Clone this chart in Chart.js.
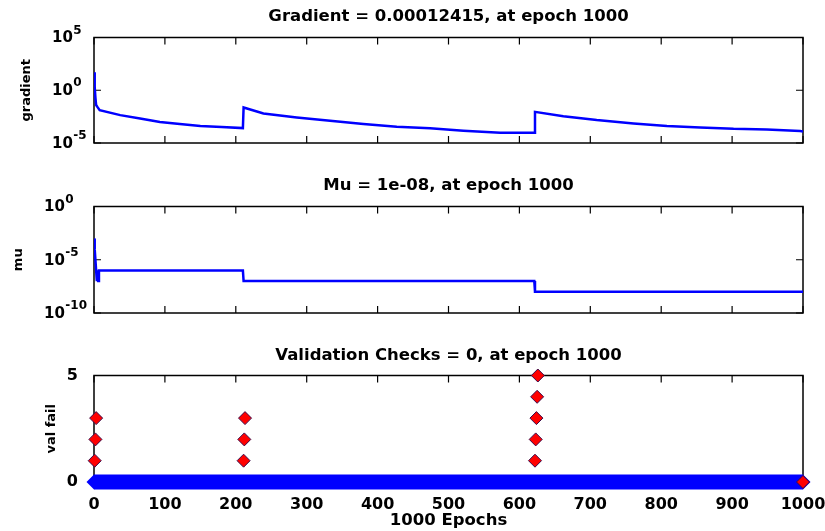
<!DOCTYPE html>
<html>
<head>
<meta charset="utf-8">
<script src="https://cdn.jsdelivr.net/npm/chart.js@4.4.0/dist/chart.umd.min.js"></script>
<style>
  html, body { margin: 0; padding: 0; background: #fff; }
  #wrap { position: relative; width: 825px; height: 531px; overflow: hidden; }
  canvas { position: absolute; left: 0; }
</style>
</head>
<body>
<div id="wrap">
  <canvas id="gradChart" width="825" height="160" style="top:0px"></canvas>
  <canvas id="muChart" width="825" height="165" style="top:165px"></canvas>
  <canvas id="valChart" width="825" height="201" style="top:330px"></canvas>
</div>
<script>
// x axis ticks (epochs)
const epochTicks = [0, 100, 200, 300, 400, 500, 600, 700, 800, 900, 1000];

// gradient per epoch
const gradEpochs = [0, 1, 2, 3, 5, 8, 37, 65, 93, 121, 150, 180, 210,
  211, 239, 286, 333, 380, 427, 474, 521, 573, 621,
  622, 662, 709, 761, 808, 855, 902, 949, 996, 1000];
const gradValues = [50, 2, 0.2, 0.04, 0.025, 0.013, 0.0044, 0.0021, 0.001, 6.3e-4, 4e-4, 3.2e-4, 2.6e-4,
  0.023, 0.0063, 0.0026, 0.00126, 6.3e-4, 3.5e-4, 2.45e-4, 1.45e-4, 9.3e-5, 9.3e-5,
  0.0089, 0.0035, 0.0015, 7.2e-4, 4e-4, 3e-4, 2.2e-4, 1.95e-4, 1.35e-4, 1.2415e-4];
const gradTicks = [1e-5, 1, 1e5];
const gradExps = ['-5', '0', '5'];

// mu per epoch
const muEpochs = [0, 1, 2, 3, 4, 5, 6, 7, 210, 211, 621, 622, 1000];
const muValues = [1e-3, 1e-4, 1e-5, 1e-6, 1e-7, 1e-6, 1e-7, 1e-6, 1e-6, 1e-7, 1e-7, 1e-8, 1e-8];
const muTicks = [1e-10, 1e-5, 1];
const muExps = ['-10', '-5', '0'];

// validation checks
const failEpochs = [1, 2, 3, 211, 212, 213, 622, 623, 624, 625, 626, 1000];
const failValues = [1, 2, 3, 1, 2, 3, 1, 2, 3, 4, 5, 0];
const zeroEpochs = [0, 1000];
const zeroValues = [0, 0];
const valTicks = [0, 5];

const TICK = 7;
const FONT = "'DejaVu Sans', 'Liberation Sans', sans-serif";

Chart.defaults.font.family = FONT;
Chart.defaults.font.weight = 'bold';
Chart.defaults.color = '#000';

const xy = (xs, ys) => xs.map((v, i) => ({ x: v, y: ys[i] }));

// axes box, inward tick marks and 10^n labels
const frame = {
  id: 'frame',
  beforeDatasetsDraw(chart, args, opts) {
    const { ctx, chartArea: a, scales } = chart;
    const xs = scales.x, ys = scales.y;
    ctx.save();
    ctx.strokeStyle = '#000';
    ctx.lineWidth = 1.5;
    ctx.strokeRect(a.left, a.top, a.right - a.left, a.bottom - a.top);
    ctx.lineWidth = 1.2;
    ctx.beginPath();
    epochTicks.forEach(v => {
      const px = xs.getPixelForValue(v);
      ctx.moveTo(px, a.top); ctx.lineTo(px, a.top + TICK);
      ctx.moveTo(px, a.bottom); ctx.lineTo(px, a.bottom - TICK);
    });
    opts.yTicks.forEach(v => {
      const py = ys.getPixelForValue(v);
      ctx.moveTo(a.left, py); ctx.lineTo(a.left + TICK, py);
      ctx.moveTo(a.right, py); ctx.lineTo(a.right - TICK, py);
    });
    ctx.stroke();
    if (opts.exps) {
      ctx.fillStyle = '#000';
      ctx.textAlign = 'left';
      ctx.textBaseline = 'middle';
      opts.yTicks.forEach((v, i) => {
        const py = ys.getPixelForValue(v);
        ctx.font = 'bold 15px ' + FONT;
        ctx.fillText('10', opts.labelX, py + 1);
        const w = ctx.measureText('10').width;
        ctx.font = 'bold 12px ' + FONT;
        ctx.fillText(opts.exps[i], opts.labelX + w + 0.5, py - 7);
      });
    }
    ctx.restore();
  }
};

function titleOpts(text, top, bottom) {
  return {
    display: true, text: text, fullSize: false, color: '#000',
    font: { size: 16.5, weight: 'bold', lineHeight: 1 },
    padding: { top: top, bottom: bottom }
  };
}

function logPanel(id, xs, ys, tickVals, exps, labelX, min, max, title, yTitle, yTitlePad, layoutPad) {
  return new Chart(document.getElementById(id), {
    type: 'line',
    data: {
      datasets: [{
        data: xy(xs, ys),
        borderColor: '#0000ff',
        borderWidth: 2.5,
        pointRadius: 0,
        tension: 0
      }]
    },
    options: {
      responsive: false,
      devicePixelRatio: 1,
      animation: false,
      events: [],
      layout: { padding: layoutPad },
      plugins: {
        legend: { display: false },
        tooltip: { enabled: false },
        title: title,
        frame: { yTicks: tickVals, exps: exps, labelX: labelX }
      },
      scales: {
        x: { type: 'linear', min: 0, max: 1000, display: false },
        y: {
          type: 'logarithmic', min: min, max: max,
          ticks: { display: false },
          grid: { display: false },
          border: { display: false },
          title: { display: true, text: yTitle, font: { size: 13, weight: 'bold' }, padding: { top: yTitlePad, bottom: 0 } },
          afterFit(s) { s.width = 94; }
        }
      }
    },
    plugins: [frame]
  });
}

logPanel('gradChart', gradEpochs, gradValues, gradTicks, gradExps, 52, 1e-5, 1e5,
  titleOpts('Gradient = 0.00012415, at epoch 1000', 8.5, 12.5), 'gradient', 19,
  { left: 0, right: 22, top: 0, bottom: 17 });

logPanel('muChart', muEpochs, muValues, muTicks, muExps, 44, 1e-10, 1,
  titleOpts('Mu = 1e-08, at epoch 1000', 12, 13), 'mu', 11,
  { left: 0, right: 22, top: 0, bottom: 17 });

new Chart(document.getElementById('valChart'), {
  type: 'line',
  data: {
    datasets: [{
      data: xy(failEpochs, failValues),
      showLine: false,
      pointStyle: 'rectRot',
      pointRadius: 6.5,
      pointBackgroundColor: '#ff0000',
      pointBorderColor: '#3a0a48',
      pointBorderWidth: 1,
      clip: false
    }, {
      data: xy(zeroEpochs, zeroValues),
      borderColor: '#0000ff',
      borderWidth: 15,
      borderCapStyle: 'butt',
      pointStyle: 'rectRot',
      pointRadius: 7.5,
      pointBackgroundColor: '#0000ff',
      pointBorderColor: '#0000ff',
      pointBorderWidth: 0,
      clip: false
    }]
  },
  options: {
    responsive: false,
    devicePixelRatio: 1,
    animation: false,
    events: [],
    layout: { padding: { left: 0, right: 22, top: 0, bottom: 0 } },
    plugins: {
      legend: { display: false },
      tooltip: { enabled: false },
      title: titleOpts('Validation Checks = 0, at epoch 1000', 17, 12),
      frame: { yTicks: valTicks }
    },
    scales: {
      x: {
        type: 'linear', min: 0, max: 1000,
        grid: { display: false },
        border: { display: false },
        ticks: { stepSize: 100, padding: 5, font: { size: 16, weight: 'bold' }, callback: v => String(v) },
        title: { display: true, text: '1000 Epochs', font: { size: 16.5, weight: 'bold' }, padding: { top: 0, bottom: 0 } },
        afterFit(s) { s.height = 49; s.paddingLeft = 0; s.paddingRight = 0; }
      },
      y: {
        type: 'linear', min: 0, max: 5,
        grid: { display: false },
        border: { display: false },
        ticks: { stepSize: 5, padding: 8, font: { size: 16, weight: 'bold' } },
        title: { display: true, text: 'val fail', font: { size: 13, weight: 'bold' }, padding: { top: 44, bottom: 0 } },
        afterFit(s) { s.width = 94; }
      }
    }
  },
  plugins: [frame]
});
</script>
</body>
</html>
